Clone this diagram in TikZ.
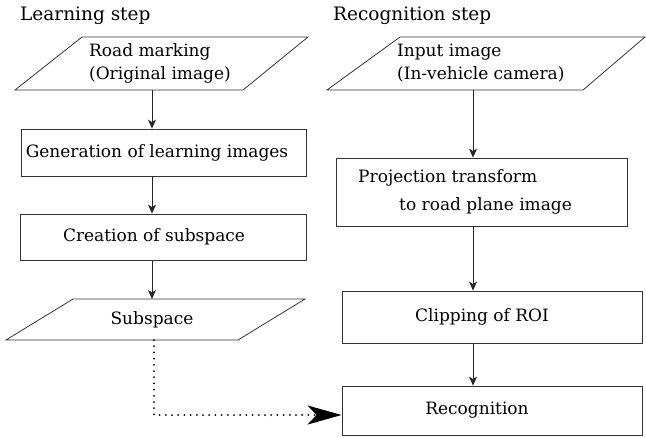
\documentclass[tikz,border=0pt]{standalone}
\usepackage{fontspec}
\setmainfont{DejaVu Serif}
\usetikzlibrary{arrows.meta}
\begin{document}
\begin{tikzpicture}[x=1pt,y=-1pt,
  txt/.style={inner sep=0pt,font=\fontsize{17}{23}\selectfont},
  ttl/.style={inner sep=0pt,font=\fontsize{18.5}{20}\selectfont},
  boxed/.style={draw=black!80,line width=0.8pt},
  flow/.style={draw=black!85,line width=0.8pt,-{Stealth[length=9pt,width=8pt,inset=2.5pt]}},
  dots/.style={black,line width=2pt,dash pattern=on 0pt off 6.2pt,line cap=round,-{Stealth[length=34pt,width=19pt,inset=9pt,line cap=butt]}}]
\useasboundingbox (0,0) rectangle (646,437);
% titles
\node[ttl,anchor=west] (t1) at (20,16) {Learning step};
\node[ttl,anchor=west] (t2) at (333,16) {Recognition step};
% left column
\draw[boxed] (82,37) -- (308,37) -- (243,90) -- (15,90) -- cycle;
\node[txt,align=left] (a) at (160,63.5) {Road marking\\(Original image)};
\coordinate (abot) at (152,90);
\node[boxed,minimum width=285pt,minimum height=47pt,inner sep=0pt] (b) at (163.5,152.5) {};
\node[txt] (bt) at (157,153) {Generation of learning images};
\node[boxed,minimum width=286pt,minimum height=46pt,inner sep=0pt] (c) at (163,237) {};
\node[txt] (ct) at (154,237) {Creation of subspace};
\draw[boxed] (73,299) -- (305,299) -- (238,340) -- (6,340) -- cycle;
\node[txt] (d) at (152,320) {Subspace};
\coordinate (dtop) at (152,299);
\coordinate (dbot) at (154,340);
\coordinate (corner) at (154,415);
% right column
\draw[boxed] (400,37) -- (645,37) -- (583,90) -- (327,90) -- cycle;
\node[txt,align=left,anchor=west] (e) at (397,63.5) {Input image\\(In-vehicle camera)};
\coordinate (ebot) at (473,90);
\node[boxed,minimum width=291pt,minimum height=68pt,inner sep=0pt] (f) at (481.5,192) {};
\node[txt,anchor=west] (f1) at (358,178) {Projection transform};
\node[txt,anchor=west] (f2) at (399,206) {to road plane image};
\node[boxed,minimum width=300pt,minimum height=52pt,inner sep=0pt] (g) at (492,317) {};
\node[txt] (gt) at (482,317) {Clipping of ROI};
\node[boxed,minimum width=300pt,minimum height=49pt,inner sep=0pt] (h) at (492,410.5) {};
\node[txt] (ht) at (477,410.5) {Recognition};
% connectors
\draw[flow] (abot) -- (abot |- b.north);
\draw[flow] (abot |- b.south) -- (abot |- c.north);
\draw[flow] (abot |- c.south) -- (dtop);
\draw[flow] (ebot) -- (ebot |- f.north);
\draw[flow] (ebot |- f.south) -- (ebot |- g.north);
\draw[flow] (ebot |- g.south) -- (ebot |- h.north);
\draw[dots] (dbot) -- (corner) -- (corner -| h.west);
\end{tikzpicture}
\end{document}
